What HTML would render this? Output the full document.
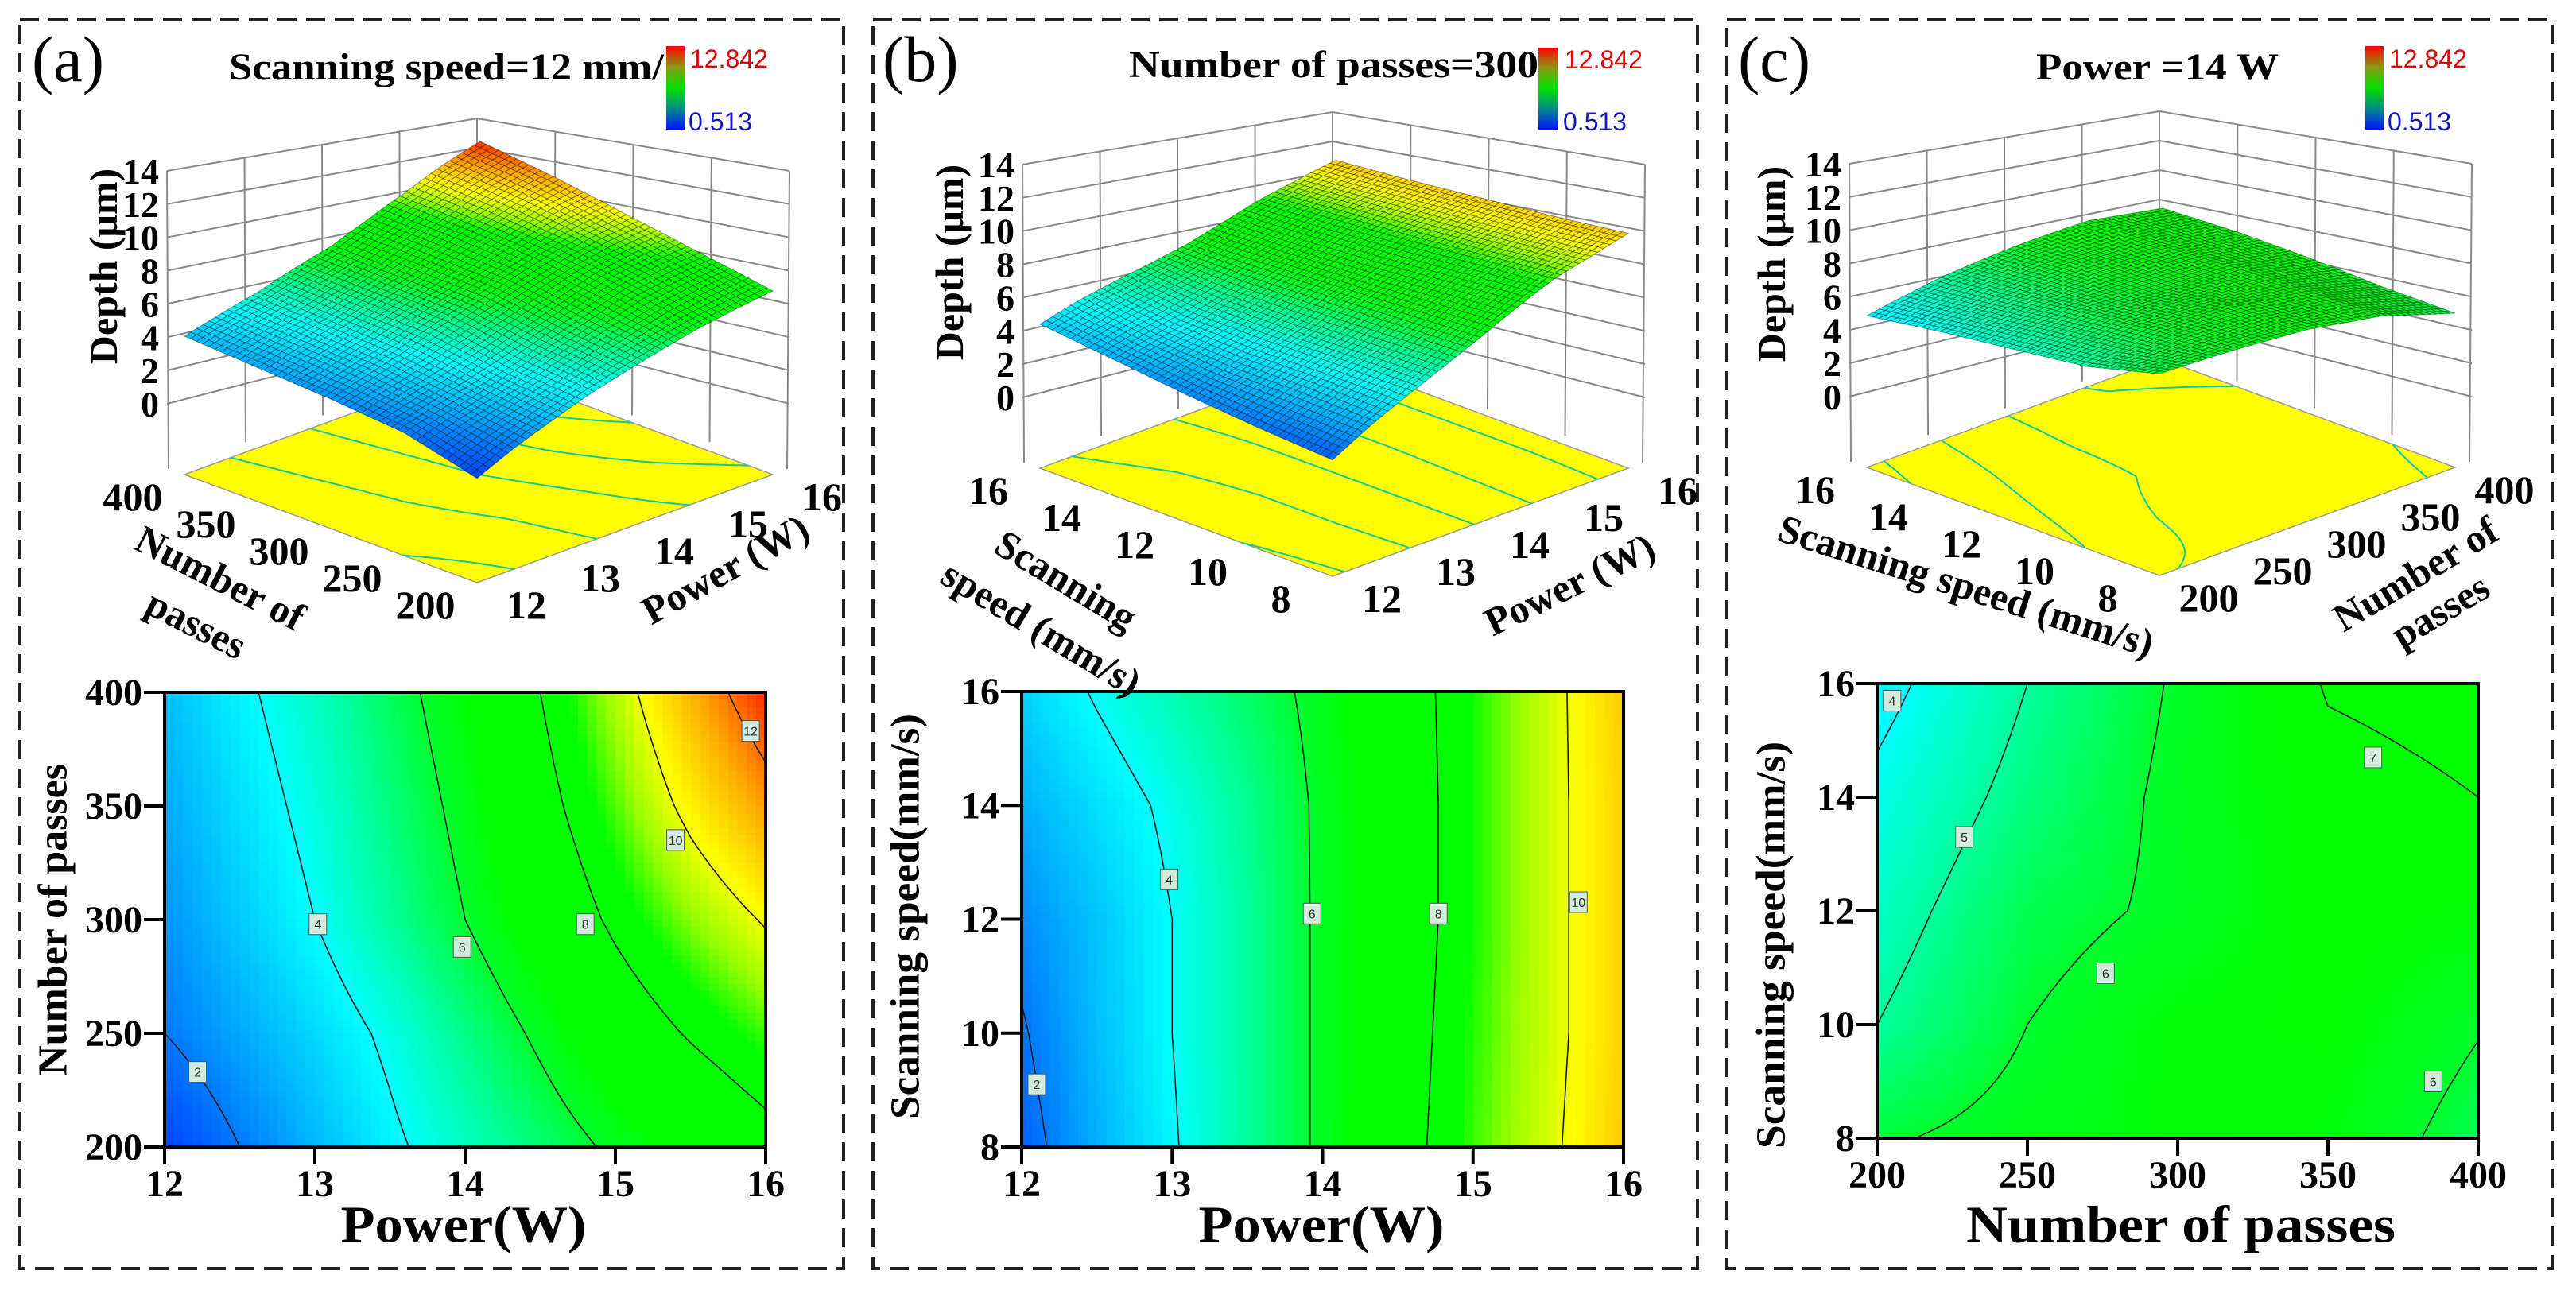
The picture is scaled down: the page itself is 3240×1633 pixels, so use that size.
<!DOCTYPE html>
<html><head><meta charset="utf-8">
<style>html,body{margin:0;padding:0;background:#fff}svg{display:block}</style>
</head><body>
<svg id="fig" width="3240" height="1633" viewBox="0 0 3240 1633" xmlns="http://www.w3.org/2000/svg" font-family="'Liberation Serif', serif">
<defs>
<linearGradient id="cbar" x1="0" y1="1" x2="0" y2="0">
<stop offset="0" stop-color="#0010ff"/><stop offset="0.25" stop-color="#008a8a"/><stop offset="0.5" stop-color="#00e000"/><stop offset="0.75" stop-color="#8a9a10"/><stop offset="1" stop-color="#ff0000"/>
</linearGradient>
</defs>
<rect width="3240" height="1633" fill="#fff"/>
<rect x="25" y="25" width="1036" height="1571" fill="none" stroke="#222" stroke-width="4" stroke-dasharray="24 12"/>
<rect x="1098" y="25" width="1037" height="1571" fill="none" stroke="#222" stroke-width="4" stroke-dasharray="24 12"/>
<rect x="2172" y="25" width="1038" height="1571" fill="none" stroke="#222" stroke-width="4" stroke-dasharray="24 12"/>

<g id="pa"></g>
<g id="pb"></g>
<g id="pc"></g>

<g font-weight="normal" font-size="82">
<text x="40" y="102">(a)</text>
<text x="1110" y="102">(b)</text>
<text x="2186" y="102">(c)</text>
</g>
<g font-weight="bold" font-size="48">
<text x="288" y="100" textLength="547" lengthAdjust="spacingAndGlyphs">Scanning speed=12 mm/</text>
<text x="1420" y="97" textLength="515" lengthAdjust="spacingAndGlyphs">Number of passes=300</text>
<text x="2561" y="100" textLength="305" lengthAdjust="spacingAndGlyphs">Power =14 W</text>
</g>
<g font-family="'Liberation Sans', sans-serif" font-size="32">
<rect x="838" y="58" width="23" height="105" fill="url(#cbar)"/>
<text x="868" y="85" fill="#e00000">12.842</text>
<text x="866" y="164" fill="#1515c8">0.513</text>
<rect x="1935" y="60" width="24" height="103" fill="url(#cbar)"/>
<text x="1968" y="86" fill="#e00000">12.842</text>
<text x="1966" y="164" fill="#1515c8">0.513</text>
<rect x="2975" y="58" width="23" height="105" fill="url(#cbar)"/>
<text x="3005" y="85" fill="#e00000">12.842</text>
<text x="3003" y="164" fill="#1515c8">0.513</text>
</g>
<g font-weight="bold" font-size="50" text-anchor="middle" dominant-baseline="central">
<text transform="translate(130,335) rotate(-90)">Depth (μm)</text>
<text transform="translate(1194,330) rotate(-90)">Depth (μm)</text>
<text transform="translate(2228,332) rotate(-90)">Depth (μm)</text>
<text transform="translate(277,727) rotate(27)">Number of</text>
<text transform="translate(247,785) rotate(27)">passes</text>
<text transform="translate(912,716) rotate(-29)">Power (W)</text>
<text transform="translate(1341,730) rotate(31)">Scanning</text>
<text transform="translate(1310,790) rotate(31)">speed (mm/s)</text>
<text transform="translate(1974,735) rotate(-26)">Power (W)</text>
<text transform="translate(2473,737) rotate(17.5)">Scanning speed (mm/s)</text>
<text transform="translate(3038,722) rotate(-31)">Number of</text>
<text transform="translate(3069,768) rotate(-31)">passes</text>
</g>
<g font-weight="bold" text-anchor="middle" dominant-baseline="central">
<text transform="translate(67,1157) rotate(-90)" font-size="52">Number of passes</text>
<text x="583" y="1541" font-size="66" textLength="309" lengthAdjust="spacingAndGlyphs">Power(W)</text>
<text transform="translate(1139,1153) rotate(-90)" font-size="52" textLength="510" lengthAdjust="spacingAndGlyphs">Scanning speed(mm/s)</text>
<text x="1662" y="1541" font-size="66" textLength="309" lengthAdjust="spacingAndGlyphs">Power(W)</text>
<text transform="translate(2228,1189) rotate(-90)" font-size="52" textLength="512" lengthAdjust="spacingAndGlyphs">Scanning speed(mm/s)</text>
<text x="2743" y="1541" font-size="66" textLength="540" lengthAdjust="spacingAndGlyphs">Number of passes</text>
</g>
</svg>
<script>
const NS = 'http://www.w3.org/2000/svg';
// ---------- Panel (a): depth vs power (x) and number of passes (y) ----------
const aPower = [12, 12.5, 13, 13.5, 14, 14.5, 15, 15.5, 16];
const aPasses = [200, 250, 300, 350, 400];
const aDepth = [
  [1.0, 2.0, 2.9, 3.8, 4.6, 5.4, 6.2, 6.9, 7.6],
  [2.0, 2.7, 3.4, 4.2, 5.2, 6.2, 7.3, 8.1, 8.8],
  [2.4, 3.2, 4.0, 5.0, 6.0, 7.1, 8.2, 9.2, 10.1],
  [2.7, 3.5, 4.3, 5.3, 6.3, 7.6, 8.9, 10.3, 11.5],
  [3.0, 3.8, 4.6, 5.6, 6.6, 8.0, 9.5, 11.2, 12.8]
];
const aXTicks = [12, 13, 14, 15, 16];
const aYTicks = [200, 250, 300, 350, 400];
const aLevels = [2, 4, 6, 8, 10, 12];
const aLabelLevel = [2, 4, 6, 8, 10, 12];
const aLabelX = [12.22, 13.02, 13.98, 14.8, 15.4, 15.9];
const aLabelY = [233, 298, 288, 298, 335, 383];
// ---------- Panel (b): depth vs power (x) and scanning speed (y) ----------
const bPower = [12, 12.5, 13, 13.5, 14, 14.5, 15, 15.5, 16];
const bSpeed = [8, 10, 12, 14, 16];
const bDepth = [
  [1.6, 2.8, 3.9, 5.0, 6.2, 7.5, 8.8, 9.8, 10.9],
  [1.9, 3.0, 4.0, 5.0, 6.2, 7.4, 8.7, 9.7, 10.8],
  [2.3, 3.1, 4.0, 5.0, 6.2, 7.3, 8.6, 9.7, 10.8],
  [2.8, 3.5, 4.2, 5.1, 6.2, 7.3, 8.6, 9.7, 10.8],
  [3.3, 4.1, 4.8, 5.5, 6.3, 7.4, 8.6, 9.7, 10.9]
];
const bXTicks = [12, 13, 14, 15, 16];
const bYTicks = [8, 10, 12, 14, 16];
const bLevels = [2, 4, 6, 8, 10];
const bLabelLevel = [2, 4, 6, 8, 10];
const bLabelX = [12.1, 12.98, 13.93, 14.77, 15.7];
const bLabelY = [9.1, 12.7, 12.1, 12.1, 12.3];
// ---------- Panel (c): depth vs number of passes (x) and scanning speed (y) ----------
const cPasses = [200, 250, 300, 350, 400];
const cSpeed = [8, 10, 12, 14, 16];
const cDepth = [
  [5.9, 6.3, 6.6, 6.5, 5.7],
  [5.0, 6.0, 6.6, 6.7, 6.05],
  [4.6, 5.7, 6.15, 6.8, 6.6],
  [4.2, 5.3, 6.2, 6.8, 7.0],
  [3.7, 5.0, 6.1, 7.05, 7.2]
];
const cXTicks = [200, 250, 300, 350, 400];
const cYTicks = [8, 10, 12, 14, 16];
const cLevels = [4, 5, 6, 7];
const cLabelLevel = [4, 5, 6, 7, 6];
const cLabelX = [205, 229, 276, 365, 385];
const cLabelY = [15.7, 13.3, 10.9, 14.7, 9.0];
const zTicks = [0, 2, 4, 6, 8, 10, 12, 14];
const zMin = 0.513, zMax = 12.842;

function mk(tag, attrs, parent) {
  const el = document.createElementNS(NS, tag);
  for (const k in attrs) el.setAttribute(k, attrs[k]);
  parent.appendChild(el);
  return el;
}
function col(z) {
  const t = Math.max(0, Math.min(1, (z - zMin) / (zMax - zMin)));
  const S = [[0,0,40,255],[0.12,0,120,255],[0.28,0,255,255],[0.37,0,255,150],[0.45,0,255,40],[0.5,0,255,0],[0.65,0,255,0],[0.71,150,255,0],[0.78,255,255,0],[0.88,255,170,0],[1,255,40,0]];
  for (let k = 1; k < S.length; k++) {
    if (t <= S[k][0]) {
      const a = S[k-1], b = S[k], f = (t - a[0]) / (b[0] - a[0]);
      return 'rgb(' + Math.round(a[1]+f*(b[1]-a[1])) + ',' + Math.round(a[2]+f*(b[2]-a[2])) + ',' + Math.round(a[3]+f*(b[3]-a[3])) + ')';
    }
  }
  return 'rgb(255,40,0)';
}
function bil(xs, ys, Z, x, y) {
  let i = 0; while (i < xs.length - 2 && x > xs[i+1]) i++;
  let j = 0; while (j < ys.length - 2 && y > ys[j+1]) j++;
  const fx = Math.max(0, Math.min(1, (x - xs[i]) / (xs[i+1] - xs[i])));
  const fy = Math.max(0, Math.min(1, (y - ys[j]) / (ys[j+1] - ys[j])));
  return Z[j][i]*(1-fx)*(1-fy) + Z[j][i+1]*fx*(1-fy) + Z[j+1][i]*(1-fx)*fy + Z[j+1][i+1]*fx*fy;
}
function valUV(p, u, v) {
  const xs = p.xs, ys = p.ys;
  return bil(xs, ys, p.Z, xs[0] + u*(xs[xs.length-1]-xs[0]), ys[0] + v*(ys[ys.length-1]-ys[0]));
}
function march(p, lev, n) {
  const V = [];
  for (let j = 0; j <= n; j++) { V[j] = []; for (let i = 0; i <= n; i++) V[j][i] = valUV(p, i/n, j/n); }
  const segs = [];
  for (let j = 0; j < n; j++) for (let i = 0; i < n; i++) {
    const c = [[i,j],[i+1,j],[i+1,j+1],[i,j+1]];
    const pts = [];
    for (let e = 0; e < 4; e++) {
      const a = c[e], b = c[(e+1)%4];
      const va = V[a[1]][a[0]], vb = V[b[1]][b[0]];
      if ((va >= lev) !== (vb >= lev)) {
        const f = (vb === va) ? 0.5 : (lev - va) / (vb - va);
        pts.push([(a[0] + f*(b[0]-a[0]))/n, (a[1] + f*(b[1]-a[1]))/n]);
      }
    }
    if (pts.length >= 2) segs.push([pts[0], pts[1]]);
    if (pts.length === 4) segs.push([pts[2], pts[3]]);
  }
  return segs;
}
// 3D projection geometry (panel a reference, others shifted)
const F0 = [600,733], R0 = [972,597], L0 = [232,597];
const sF = 25, sR = 19.5, sL = 24, sB = 16.6, zf = -4.25;
function proj(p, u, v, z) {
  const x = F0[0] + u*(R0[0]-F0[0]) + v*(L0[0]-F0[0]) + p.shift[0];
  const y = F0[1] + u*(R0[1]-F0[1]) + v*(L0[1]-F0[1]) + p.shift[1];
  const s = sF*(1-u)*(1-v) + sR*u*(1-v) + sL*(1-u)*v + sB*u*v;
  return [x, y - s*(z - zf)];
}
function fmt(pt) { return pt[0].toFixed(1) + ',' + pt[1].toFixed(1); }

function drawPanel(p) {
  const g = document.getElementById(p.gid);
  const dx = p.shift[0], dy = p.shift[1];
  const sh = q => [q[0]+dx, q[1]+dy];
  // ---- walls ----
  const walls = mk('g', {stroke:'#8a8a8a', 'stroke-width':2, fill:'none'}, g);
  
  
  const TL=[210,215], TB=[600,149], BL=[212,590], BB=[600,455], TR=[993,215], BR=[990,590];
  const yL = z => 508 - 20.93*z, yBk = z => 408 - 18.5*z;
  let d = '';
  const line = (a, b) => { const A = sh(a), B = sh(b); d += 'M' + fmt(A) + 'L' + fmt(B); };
  line(TL, TB); line(TB, TR); line(TL, BL); line(TR, BR); line(TB, BB);
  zTicks.forEach(z => { line([TL[0], yL(z)], [TB[0], yBk(z)]); line([TB[0], yBk(z)], [TR[0], yL(z)]); });
  [0.25, 0.5, 0.75].forEach(f => {
    line([TL[0]+f*(TB[0]-TL[0]), TL[1]+f*(TB[1]-TL[1])], [BL[0]+f*(BB[0]-BL[0]), BL[1]+f*(BB[1]-BL[1])]);
    line([TR[0]+f*(TB[0]-TR[0]), TR[1]+f*(TB[1]-TR[1])], [BR[0]+f*(BB[0]-BR[0]), BR[1]+f*(BB[1]-BR[1])]);
  });
  const wp = mk('path', {d: d}, walls);
  
  
  zTicks.forEach(z => {
    const t = mk('text', {x: 200+dx, y: yL(z)+dy+16, 'text-anchor':'end', 'font-size':46, 'font-weight':'bold'}, g);
    
    
    t.textContent = z;
  });
  // ---- floor ----
  const fl = mk('polygon', {points: [proj(p,0,0,zf),proj(p,1,0,zf),proj(p,1,1,zf),proj(p,0,1,zf)].map(fmt).join(' '), fill:'#ffff00', stroke:'#999', 'stroke-width':1.5}, g);
  
  
  let fd = '';
  p.levels.forEach(lev => march(p, lev, 50).forEach(s => { fd += 'M' + fmt(proj(p, s[0][0], s[0][1], zf)) + 'L' + fmt(proj(p, s[1][0], s[1][1], zf)); }));
  const fcl = mk('path', {d: fd, stroke:'#10c8a0', 'stroke-width':2, fill:'none'}, g);
  
  
  // floor tick labels
  const xr = [p.xs[0], p.xs[p.xs.length-1]], yr = [p.ys[0], p.ys[p.ys.length-1]];
  p.yTicks.forEach(t => {
    const q = proj(p, 0, (t-yr[0])/(yr[1]-yr[0]), zf);
    const tx = mk('text', {x: q[0]-65, y: q[1]+28+17, 'text-anchor':'middle', 'font-size':50, 'font-weight':'bold'}, g);
    
    
    tx.textContent = t;
  });
  p.xTicks.forEach(t => {
    const q = proj(p, (t-xr[0])/(xr[1]-xr[0]), 0, zf);
    const tx = mk('text', {x: q[0]+62, y: q[1]+28+17, 'text-anchor':'middle', 'font-size':50, 'font-weight':'bold'}, g);
    
    
    tx.textContent = t;
  });
  // ---- surface ----
  const sg = mk('g', {stroke:'rgba(0,0,0,0.38)', 'stroke-width':1}, g);
  
  
  const M = 48, quads = [];
  for (let j = 0; j < M; j++) for (let i = 0; i < M; i++) quads.push([i, j]);
  quads.sort((a, b) => (b[0]+b[1]) - (a[0]+a[1]));
  quads.forEach(qd => {
    const i = qd[0], j = qd[1];
    const c = [[i,j],[i+1,j],[i+1,j+1],[i,j+1]].map(k => proj(p, k[0]/M, k[1]/M, valUV(p, k[0]/M, k[1]/M)));
    const poly = mk('polygon', {points: c.map(fmt).join(' '), fill: col(valUV(p, (i+0.5)/M, (j+0.5)/M))}, sg);
    
    
  });
  // ---- 2D contour plot ----
  const bx = p.box;
  const W = bx.x1 - bx.x0, H = bx.y1 - bx.y0;
  const xs = v => bx.x0 + (v - xr[0])/(xr[1]-xr[0])*W;
  const ys = v => bx.y1 - (v - yr[0])/(yr[1]-yr[0])*H;
  const hg = mk('g', {'shape-rendering':'crispEdges'}, g);
  
  
  const NH = 64;
  for (let j = 0; j < NH; j++) for (let i = 0; i < NH; i++) {
    const r = mk('rect', {x: (bx.x0 + i*W/NH).toFixed(2), y: (bx.y1 - (j+1)*H/NH).toFixed(2), width: (W/NH+0.6).toFixed(2), height: (H/NH+0.6).toFixed(2), fill: col(valUV(p, (i+0.5)/NH, (j+0.5)/NH))}, hg);
    
    
  }
  let cd = '';
  p.levels.forEach(lev => march(p, lev, 80).forEach(s => {
    cd += 'M' + (bx.x0 + s[0][0]*W).toFixed(1) + ',' + (bx.y1 - s[0][1]*H).toFixed(1) + 'L' + (bx.x0 + s[1][0]*W).toFixed(1) + ',' + (bx.y1 - s[1][1]*H).toFixed(1);
  }));
  const cl = mk('path', {d: cd, stroke:'#1a1a1a', 'stroke-width':1.6, fill:'none', 'stroke-linecap':'round'}, g);
  
  
  p.labLevel.forEach((lv, k) => {
    const cx = xs(p.labX[k]), cy = ys(p.labY[k]);
    const lr = mk('rect', {x: cx-11, y: cy-13, width: 22, height: 26, fill:'#d2ecdc', stroke:'#555', 'stroke-width':1}, g);
    
    
    const lt = mk('text', {x: cx, y: cy+6, 'text-anchor':'middle', 'font-size':16, 'font-family':"'Liberation Sans', sans-serif", fill:'#333'}, g);
    
    
    lt.textContent = lv;
  });
  const frame = mk('rect', {x: bx.x0, y: bx.y0, width: W, height: H, fill:'none', stroke:'#000', 'stroke-width':4}, g);
  
  
  let td = '';
  p.xTicks.forEach(t => { td += 'M' + xs(t) + ',' + bx.y1 + 'V' + (bx.y1 + 22); });
  p.yTicks.forEach(t => { td += 'M' + bx.x0 + ',' + ys(t) + 'H' + (bx.x0 - 26); });
  const tk = mk('path', {d: td, stroke:'#000', 'stroke-width':4}, g);
  
  
  p.xTicks.forEach(t => {
    const tx = mk('text', {x: xs(t), y: bx.y1 + 62, 'text-anchor':'middle', 'font-size':48, 'font-weight':'bold'}, g);
    
    
    tx.textContent = t;
  });
  p.yTicks.forEach(t => {
    const tx = mk('text', {x: bx.x0 - 28, y: ys(t) + 16, 'text-anchor':'end', 'font-size':48, 'font-weight':'bold'}, g);
    
    
    tx.textContent = t;
  });
}

drawPanel({gid:'pa', key:'panel-a', xs:aPower, ys:aPasses, Z:aDepth, xTicks:aXTicks, yTicks:aYTicks, levels:aLevels,
  labLevel:aLabelLevel, labX:aLabelX, labY:aLabelY, shift:[0,0], box:{x0:207, y0:871, x1:963, y1:1443}});
drawPanel({gid:'pb', key:'panel-b', xs:bPower, ys:bSpeed, Z:bDepth, xTicks:bXTicks, yTicks:bYTicks, levels:bLevels,
  labLevel:bLabelLevel, labX:bLabelX, labY:bLabelY, shift:[1076,-8], box:{x0:1285, y0:870, x1:2042, y1:1443}});
drawPanel({gid:'pc', key:'panel-c', xs:cPasses, ys:cSpeed, Z:cDepth, xTicks:cXTicks, yTicks:cYTicks, levels:cLevels,
  labLevel:cLabelLevel, labX:cLabelX, labY:cLabelY, shift:[2116,-9], box:{x0:2361, y0:860, x1:3117, y1:1432}});
</script>
</body></html>
